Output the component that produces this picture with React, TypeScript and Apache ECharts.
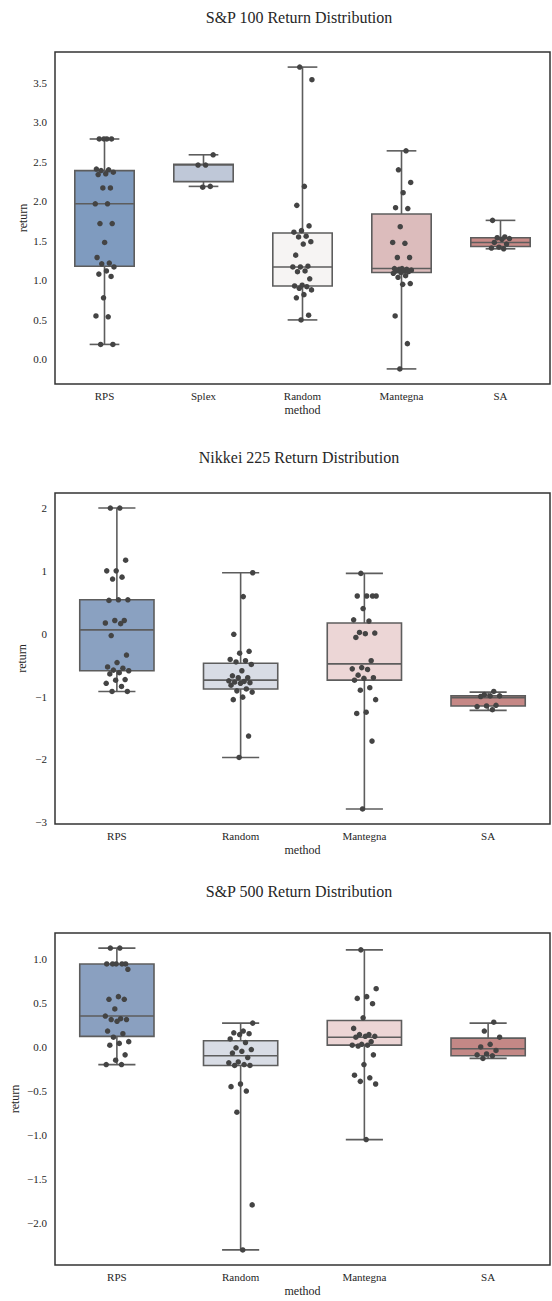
import React, { useEffect, useRef } from "react";
import * as echarts from "echarts";

// ---------- Data ----------
const TITLES = [
  "S&P 100 Return Distribution",
  "Nikkei 225 Return Distribution",
  "S&P 500 Return Distribution",
];

// S&P 100
const CATS_SP100 = ["RPS", "Splex", "Random", "Mantegna", "SA"];
const BOX_SP100 = [
  [0.19, 1.18, 1.97, 2.39, 2.79],
  [2.19, 2.25, 2.46, 2.47, 2.59],
  [0.5, 0.93, 1.17, 1.6, 3.7],
  [-0.12, 1.1, 1.15, 1.84, 2.64],
  [1.4, 1.43, 1.48, 1.54, 1.76],
];
const SP100_RPS = [2.79, 2.79, 2.79, 2.79, 2.41, 2.4, 2.39, 2.37, 2.35, 2.34, 2.17, 2.17, 1.97, 1.97, 1.72, 1.72, 1.48, 1.29, 1.22, 1.21, 1.17, 1.12, 1.08, 1.05, 0.78, 0.55, 0.54, 0.19, 0.19];
const SP100_SPLEX = [2.59, 2.46, 2.46, 2.19, 2.18];
const SP100_RANDOM = [3.7, 3.54, 2.19, 1.95, 1.69, 1.63, 1.61, 1.56, 1.55, 1.49, 1.46, 1.32, 1.18, 1.17, 1.17, 1.12, 1.11, 1.02, 0.94, 0.93, 0.92, 0.9, 0.88, 0.82, 0.78, 0.56, 0.5];
const SP100_MANTEGNA = [2.64, 2.4, 2.24, 2.11, 1.92, 1.91, 1.68, 1.48, 1.47, 1.29, 1.29, 1.15, 1.15, 1.14, 1.14, 1.13, 1.12, 1.12, 1.11, 1.1, 1.09, 1.06, 1.04, 0.96, 0.95, 0.55, 0.2, -0.12];
const SP100_SA = [1.76, 1.55, 1.54, 1.53, 1.52, 1.48, 1.46, 1.42, 1.41, 1.4];
const COLORS_SP100 = ["#7f9bbf", "#bfc8d8", "#f6f4f3", "#dcbcbc", "#c98a87"];

// Nikkei 225
const CATS_NK225 = ["RPS", "Random", "Mantegna", "SA"];
const BOX_NK225 = [
  [-0.92, -0.59, 0.06, 0.54, 2.0],
  [-1.97, -0.88, -0.74, -0.47, 0.97],
  [-2.79, -0.74, -0.48, 0.17, 0.96],
  [-1.22, -1.15, -1.02, -0.99, -0.93],
];
const NK225_RPS = [2.0, 2.0, 1.17, 1.0, 1.0, 0.9, 0.87, 0.54, 0.54, 0.53, 0.21, 0.21, 0.17, 0.16, -0.03, -0.34, -0.46, -0.53, -0.55, -0.58, -0.59, -0.62, -0.64, -0.73, -0.74, -0.79, -0.84, -0.92, -0.92];
const NK225_RANDOM = [0.97, 0.59, -0.01, -0.28, -0.31, -0.41, -0.43, -0.45, -0.49, -0.59, -0.67, -0.7, -0.7, -0.75, -0.76, -0.77, -0.78, -0.79, -0.82, -0.88, -0.91, -0.93, -1.01, -1.05, -1.63, -1.97];
const NK225_MANTEGNA = [0.96, 0.6, 0.6, 0.6, 0.6, 0.4, 0.22, 0.2, 0.02, 0.01, 0.0, -0.06, -0.43, -0.54, -0.56, -0.57, -0.66, -0.7, -0.71, -0.74, -0.86, -0.9, -1.05, -1.25, -1.27, -1.71, -2.79];
const NK225_SA = [-0.92, -0.97, -0.99, -0.99, -1.0, -1.14, -1.15, -1.16, -1.21];
const COLORS_NK225 = ["#8aa1c1", "#d8dce5", "#ecd6d6", "#c68886"];

// S&P 500
const CATS_SP500 = ["RPS", "Random", "Mantegna", "SA"];
const BOX_SP500 = [
  [-0.2, 0.12, 0.35, 0.94, 1.12],
  [-2.3, -0.21, -0.1, 0.07, 0.27],
  [-1.05, 0.02, 0.11, 0.3, 1.1],
  [-0.13, -0.1, -0.02, 0.1, 0.27],
];
const SP500_RPS = [1.12, 1.12, 0.94, 0.94, 0.94, 0.94, 0.94, 0.88, 0.57, 0.54, 0.54, 0.43, 0.35, 0.32, 0.31, 0.31, 0.29, 0.18, 0.15, 0.11, 0.06, 0.04, 0.02, -0.09, -0.15, -0.2, -0.2];
const SP500_RANDOM = [0.27, 0.18, 0.16, 0.15, 0.14, 0.09, 0.05, -0.01, -0.03, -0.05, -0.07, -0.12, -0.17, -0.18, -0.2, -0.21, -0.21, -0.42, -0.45, -0.5, -0.74, -1.79, -2.3];
const SP500_MANTEGNA = [1.1, 0.66, 0.57, 0.55, 0.49, 0.33, 0.21, 0.14, 0.14, 0.12, 0.12, 0.11, 0.06, 0.03, 0.02, 0.02, 0.01, -0.09, -0.2, -0.32, -0.35, -0.39, -0.42, -1.05];
const SP500_SA = [0.28, 0.18, 0.11, 0.03, 0.0, -0.04, -0.08, -0.09, -0.1, -0.13];
const COLORS_SP500 = ["#8aa0c0", "#d8dce5", "#ecd5d5", "#c38886"];

// ---------- Layout / style ----------
const FONT = "Liberation Serif";
const TEXT = "#262626";
const LINE = "#5d5d5d";
const DOT = "#444444";

const PANELS = [
  { title: TITLES[0], cats: CATS_SP100, boxes: BOX_SP100, points: [SP100_RPS, SP100_SPLEX, SP100_RANDOM, SP100_MANTEGNA, SP100_SA], colors: COLORS_SP100, titleTop: 4, top: 52, height: 332, yGap: 26, fmt: 1 },
  { title: TITLES[1], cats: CATS_NK225, boxes: BOX_NK225, points: [NK225_RPS, NK225_RANDOM, NK225_MANTEGNA, NK225_SA], colors: COLORS_NK225, titleTop: 444, top: 493, height: 331, yGap: 27, fmt: 0 },
  { title: TITLES[2], cats: CATS_SP500, boxes: BOX_SP500, points: [SP500_RPS, SP500_RANDOM, SP500_MANTEGNA, SP500_SA], colors: COLORS_SP500, titleTop: 878, top: 933, height: 332, yGap: 34, fmt: 1 },
];

function jitter(i: number, c: number) {
  const f = ((i + 1) * 0.6180339887 + c * 0.37) % 1;
  return (f - 0.5) * 0.2;
}

function buildOption() {
  const title: any[] = [];
  const grid: any[] = [];
  const xAxis: any[] = [];
  const yAxis: any[] = [];
  const series: any[] = [];

  PANELS.forEach((p, k) => {
    let lo = Infinity;
    let hi = -Infinity;
    p.boxes.forEach((b) => {
      lo = Math.min(lo, ...b);
      hi = Math.max(hi, ...b);
    });
    p.points.forEach((arr) => {
      lo = Math.min(lo, ...arr);
      hi = Math.max(hi, ...arr);
    });
    const pad = (hi - lo) * 0.05;

    title.push({
      text: p.title,
      left: 294,
      top: p.titleTop,
      textAlign: "center",
      textStyle: { fontFamily: FONT, fontSize: 16, fontWeight: "normal", color: TEXT },
    });
    grid.push({
      left: 55,
      right: 2,
      top: p.top,
      height: p.height,
      show: true,
      borderColor: "#333333",
      borderWidth: 1.5,
      backgroundColor: "transparent",
      containLabel: false,
    });
    xAxis.push({
      type: "category",
      gridIndex: k,
      data: p.cats,
      name: "method",
      nameLocation: "middle",
      nameGap: 20,
      nameMoveOverlap: false,
      nameTextStyle: { fontFamily: FONT, fontSize: 12, color: TEXT },
      axisLine: { show: false },
      axisTick: { show: false },
      axisLabel: { fontFamily: FONT, fontSize: 11, color: TEXT, margin: 6 },
      splitLine: { show: false },
    });
    xAxis.push({
      type: "value",
      gridIndex: k,
      show: false,
      min: -0.5,
      max: p.cats.length - 0.5,
      splitLine: { show: false },
    });
    yAxis.push({
      type: "value",
      gridIndex: k,
      min: lo - pad,
      max: hi + pad,
      splitNumber: k === 1 ? 5 : k === 0 ? 8 : 7,
      name: "return",
      nameLocation: "middle",
      nameGap: p.yGap,
      nameMoveOverlap: false,
      nameTextStyle: { fontFamily: FONT, fontSize: 12, color: TEXT },
      axisLine: { show: false },
      axisTick: { show: false },
      splitLine: { show: false },
      axisLabel: {
        fontFamily: FONT,
        fontSize: 11,
        color: TEXT,
        margin: 8,
        showMinLabel: false,
        showMaxLabel: false,
        formatter: (v: number) => v.toFixed(p.fmt).replace("-", "\u2212"),
      },
    });

    const colors = p.colors;
    series.push({
      type: "custom",
      xAxisIndex: 2 * k,
      yAxisIndex: k,
      z: 2,
      data: p.boxes.map((b, i) => [i, ...b]),
      encode: { x: 0, y: [1, 2, 3, 4, 5] },
      renderItem: (params: any, api: any) => {
        const x = api.value(0);
        const pLo = api.coord([x, api.value(1)]);
        const pQ1 = api.coord([x, api.value(2)]);
        const pMed = api.coord([x, api.value(3)]);
        const pQ3 = api.coord([x, api.value(4)]);
        const pHi = api.coord([x, api.value(5)]);
        const band = api.size([1, 0])[0];
        const bw = band * 0.6;
        const cw = band * 0.3;
        const cx = pLo[0];
        const ls = { stroke: LINE, lineWidth: 1.6, fill: null };
        return {
          type: "group",
          children: [
            { type: "line", shape: { x1: cx, y1: pQ3[1], x2: cx, y2: pHi[1] }, style: ls },
            { type: "line", shape: { x1: cx, y1: pQ1[1], x2: cx, y2: pLo[1] }, style: ls },
            { type: "line", shape: { x1: cx - cw / 2, y1: pHi[1], x2: cx + cw / 2, y2: pHi[1] }, style: ls },
            { type: "line", shape: { x1: cx - cw / 2, y1: pLo[1], x2: cx + cw / 2, y2: pLo[1] }, style: ls },
            {
              type: "rect",
              shape: { x: cx - bw / 2, y: pQ3[1], width: bw, height: pQ1[1] - pQ3[1] },
              style: { fill: colors[params.dataIndex], stroke: LINE, lineWidth: 1.6 },
            },
            { type: "line", shape: { x1: cx - bw / 2, y1: pMed[1], x2: cx + bw / 2, y2: pMed[1] }, style: ls },
          ],
        };
      },
    });

    const pts: number[][] = [];
    p.points.forEach((arr, c) => {
      arr.forEach((v, i) => pts.push([c + jitter(i, c), v]));
    });
    series.push({
      type: "scatter",
      xAxisIndex: 2 * k + 1,
      yAxisIndex: k,
      z: 5,
      symbolSize: 5.5,
      itemStyle: { color: DOT, opacity: 1 },
      data: pts,
    });
  });

  return { animation: false, backgroundColor: "#ffffff", title, grid, xAxis, yAxis, series };
}

export default function App() {
  const ref = useRef<HTMLDivElement>(null);
  useEffect(() => {
    if (!ref.current) return;
    const chart = echarts.init(ref.current, null, { renderer: "svg" });
    chart.setOption(buildOption() as any);
    return () => chart.dispose();
  }, []);
  return (
    <div
      ref={ref}
      style={{ position: "absolute", left: 0, top: 0, width: 552, height: 1301, background: "#fff" }}
    />
  );
}
